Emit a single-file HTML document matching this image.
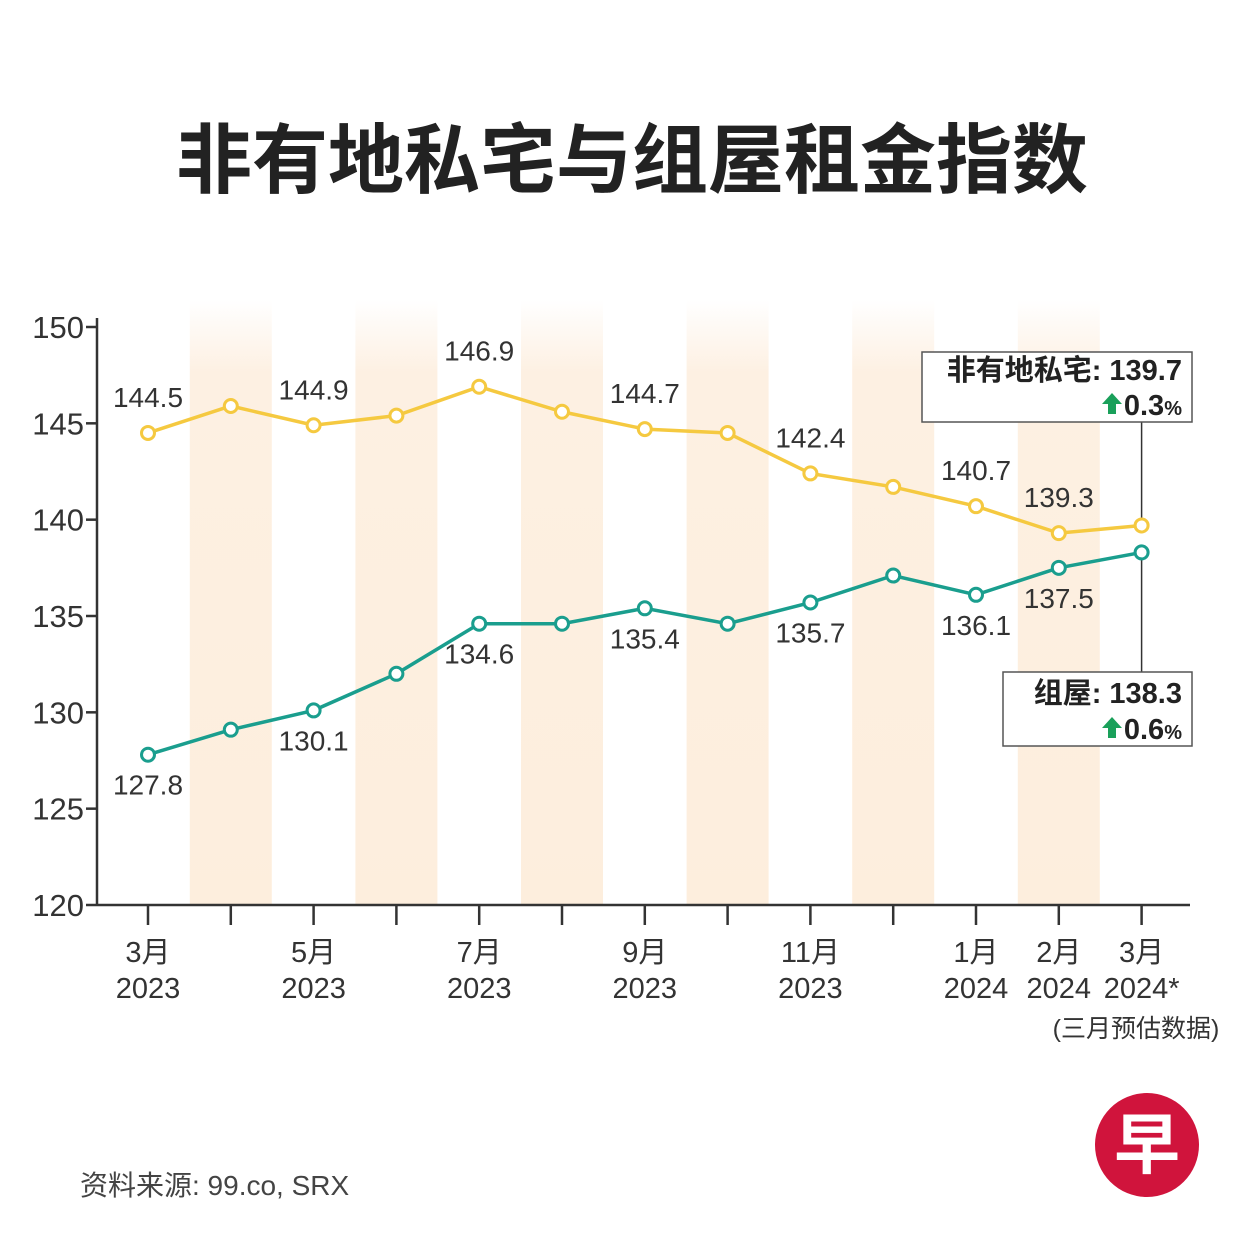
<!DOCTYPE html>
<html><head><meta charset="utf-8"><style>
html,body{margin:0;padding:0;background:#fff;}
svg text{font-family:"Liberation Sans","Noto Sans CJK SC",sans-serif;}
</style></head><body>
<svg id="chart" width="1251" height="1251" viewBox="0 0 1251 1251" xmlns="http://www.w3.org/2000/svg">
<defs>
<linearGradient id="band" x1="0" y1="0" x2="0" y2="1">
<stop offset="0" stop-color="#fdf0e2" stop-opacity="0"/>
<stop offset="0.12" stop-color="#fdf0e2" stop-opacity="1"/>
<stop offset="1" stop-color="#fdeedd" stop-opacity="1"/>
</linearGradient>
</defs>
<text x="632" y="187" text-anchor="middle" font-size="76" font-weight="bold" fill="#222">非有地私宅与组屋租金指数</text>
<g id="bands"></g>
<g id="axes"></g>
<g id="series"></g>
<g>
<rect x="922" y="352" width="270" height="70" fill="#fff" stroke="#555" stroke-width="1.5"/>
<text x="1182" y="380" text-anchor="end" font-size="29" font-weight="bold" fill="#222">非有地私宅: 139.7</text>
<polygon points="1112,393 1122,404 1116,404 1116,414 1108,414 1108,404 1102,404" fill="#1aa05a"/>
<text x="1182" y="415" text-anchor="end" font-size="29" font-weight="bold" fill="#222">0.3<tspan font-size="20">%</tspan></text>
</g>
<g>
<rect x="1003" y="672" width="189" height="74" fill="#fff" stroke="#555" stroke-width="1.5"/>
<text x="1182" y="703" text-anchor="end" font-size="29" font-weight="bold" fill="#222">组屋: 138.3</text>
<polygon points="1112,717 1122,728 1116,728 1116,738 1108,738 1108,728 1102,728" fill="#1aa05a"/>
<text x="1182" y="739" text-anchor="end" font-size="29" font-weight="bold" fill="#222">0.6<tspan font-size="20">%</tspan></text>
</g>
<text x="1136" y="1037" text-anchor="middle" font-size="25" fill="#333">(三月预估数据)</text>
<text x="80" y="1195" font-size="28" fill="#444">资料来源: 99.co, SRX</text>
<g>
<circle cx="1147" cy="1145" r="52" fill="#d0143c"/>
<text x="1147" y="1168" text-anchor="middle" font-size="66" font-weight="bold" fill="#fff">早</text>
</g>
</svg>
<script>
const months = ["3月","4月","5月","6月","7月","8月","9月","10月","11月","12月","1月","2月","3月"];
const years = ["2023","","2023","","2023","","2023","","2023","","2024","2024","2024*"];
const showLabel = [1,0,1,0,1,0,1,0,1,0,1,1,1];
const privateVals = [144.5,145.9,144.9,145.4,146.9,145.6,144.7,144.5,142.4,141.7,140.7,139.3,139.7];
const hdbVals = [127.8,129.1,130.1,132.0,134.6,134.6,135.4,134.6,135.7,137.1,136.1,137.5,138.3];
const privateLabels = ["144.5","","144.9","","146.9","","144.7","","142.4","","140.7","139.3",""];
const hdbLabels = ["127.8","","130.1","","134.6","","135.4","","135.7","","136.1","137.5",""];
const yTicks = [120,125,130,135,140,145,150];

const NS="http://www.w3.org/2000/svg";
const x0=148, dx=82.8, yTop=327, yBot=905, vMin=120, vMax=150;
const X=i=>x0+i*dx;
const Y=v=>yBot-(v-vMin)/(vMax-vMin)*(yBot-yTop);
function mk(tag,attrs,parent,txt){const e=document.createElementNS(NS,tag);for(const k in attrs)e.setAttribute(k,attrs[k]);if(txt!==undefined)e.textContent=txt;parent.appendChild(e);return e;}
const bands=document.getElementById('bands'),axes=document.getElementById('axes'),series=document.getElementById('series');
for(let i=1;i<months.length;i+=2){
 const r=mk('rect',{x:X(i)-41,y:300,width:82,height:yBot-300,fill:'url(#band)'},bands);
 
 
}
const ya=mk('line',{x1:97,y1:318,x2:97,y2:yBot,stroke:'#333','stroke-width':2.5},axes);


const xa=mk('line',{x1:97,y1:yBot,x2:1190,y2:yBot,stroke:'#333','stroke-width':2.5},axes);


yTicks.forEach(v=>{
 mk('line',{x1:86,y1:Y(v),x2:97,y2:Y(v),stroke:'#333','stroke-width':2.5},axes);
 const t=mk('text',{x:84,y:Y(v)+11,'text-anchor':'end','font-size':31,fill:'#333'},axes,String(v));
 
 
});
months.forEach((m,i)=>{
 mk('line',{x1:X(i),y1:yBot,x2:X(i),y2:yBot+20,stroke:'#333','stroke-width':2.5},axes);
 if(showLabel[i]){
  const t=mk('text',{x:X(i),y:962,'text-anchor':'middle','font-size':29,fill:'#333'},axes,m);
  
  
  const t2=mk('text',{x:X(i),y:998,'text-anchor':'middle','font-size':29,fill:'#333'},axes,years[i]);
  
  
 }
});
mk('line',{x1:X(12),y1:422,x2:X(12),y2:Y(privateVals[12])-7,stroke:'#333','stroke-width':1.5},series);
mk('line',{x1:X(12),y1:Y(hdbVals[12])+7,x2:X(12),y2:672,stroke:'#333','stroke-width':1.5},series);
function drawSeries(vals,labels,color,name,above){
 const p=mk('polyline',{points:vals.map((v,i)=>X(i)+','+Y(v)).join(' '),fill:'none',stroke:color,'stroke-width':3.5},series);
 
 
 vals.forEach((v,i)=>{
  const c=mk('circle',{cx:X(i),cy:Y(v),r:6.5,fill:'#fff',stroke:color,'stroke-width':3},series);
  
  
  if(labels[i]){
   const t=mk('text',{x:X(i),y:above?Y(v)-26:Y(v)+40,'text-anchor':'middle','font-size':28,fill:'#333'},series,labels[i]);
   
   
  }
 });
}
drawSeries(privateVals,privateLabels,'#f5c940','private',true);
drawSeries(hdbVals,hdbLabels,'#1a9e8e','hdb',false);
</script>
</body></html>
